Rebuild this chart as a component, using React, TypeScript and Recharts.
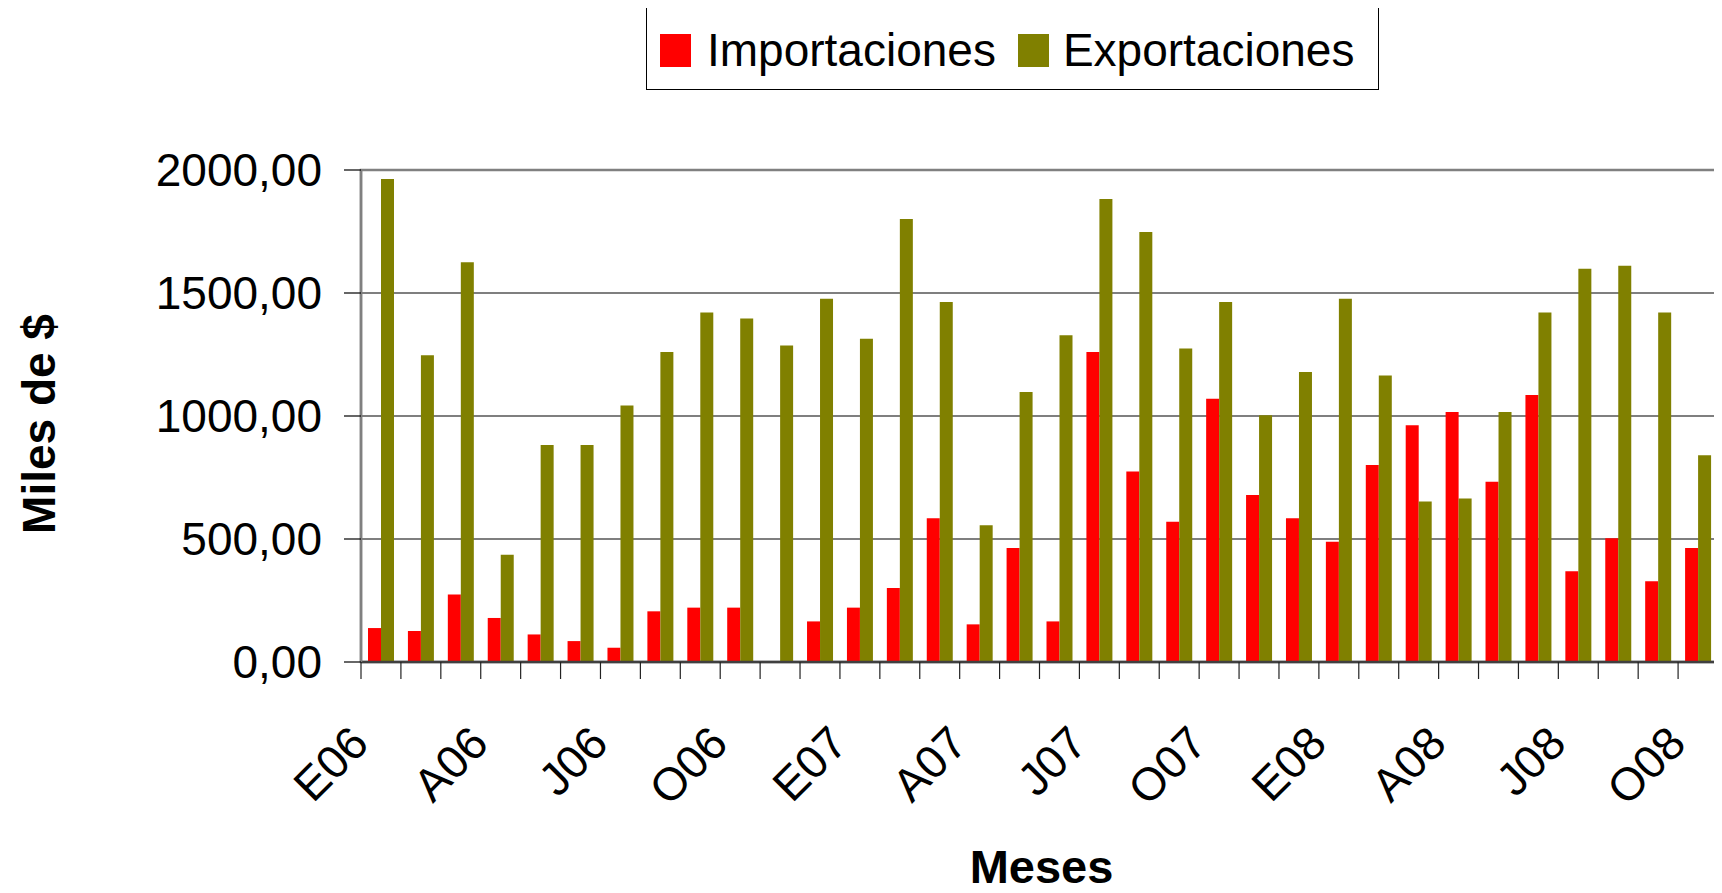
import React from 'react';
import {
	BarChart,
	Bar,
	XAxis,
	YAxis,
	CartesianGrid,
	ReferenceArea,
} from 'recharts';

// months E06 .. O08 (Spanish initials)
const meses = [
	'E06', 'F06', 'M06', 'A06', 'M06', 'J06', 'J06', 'A06', 'S06', 'O06', 'N06', 'D06',
	'E07', 'F07', 'M07', 'A07', 'M07', 'J07', 'J07', 'A07', 'S07', 'O07', 'N07', 'D07',
	'E08', 'F08', 'M08', 'A08', 'M08', 'J08', 'J08', 'A08', 'S08', 'O08',
];

const importaciones = [
	138, 126, 274, 179, 112, 85, 58, 206, 221, 221, 0, 165,
	221, 301, 584, 153, 463, 165, 1260, 774, 570, 1070, 679, 584,
	489, 801, 962, 1016, 733, 1085, 369, 503, 328, 463,
];

const exportaciones = [
	1963, 1247, 1625, 436, 882, 882, 1043, 1260, 1421, 1396, 1287, 1477,
	1314, 1801, 1463, 556, 1098, 1328, 1882, 1748, 1274, 1463, 1003, 1179,
	1477, 1165, 652, 665, 1016, 1421, 1599, 1611, 1421, 840,
];

const yTicks = [0, 500, 1000, 1500, 2000];

const data = meses.map((mes, i) => ({
	mes,
	Importaciones: importaciones[i],
	Exportaciones: exportaciones[i],
}));

const FONT = '"Liberation Sans", Arial, sans-serif';
const PLOT_WIDTH = 1357;
const BAND = PLOT_WIDTH / meses.length;

const formatY = (v: number) => v.toFixed(2).replace('.', ',');

const MonthTick = (props: any) => {
	const { x, y, index, payload } = props;
	const half = BAND / 2;
	const ax = x - 10;
	const ay = y + 84;
	return (
		<g>
			<line x1={x - half} x2={x - half} y1={y} y2={y + 17} stroke="#222" strokeWidth={1.2} />
			{index === meses.length - 1 && (
				<line x1={x + half} x2={x + half} y1={y} y2={y + 17} stroke="#222" strokeWidth={1.2} />
			)}
			{index % 3 === 0 && (
				<text
					x={ax}
					y={ay}
					textAnchor="end"
					transform={`rotate(-45, ${ax}, ${ay})`}
					fontSize={46}
					fontFamily={FONT}
					fill="#000"
				>
					{payload.value}
				</text>
			)}
		</g>
	);
};

const xTitle = (props: any) => {
	const vb = props.viewBox || { x: 353, y: 654, width: 1357 };
	return (
		<text x={vb.x + vb.width / 2 + 2} y={vb.y + 221} textAnchor="middle" fontSize={47} fontWeight="bold" fontFamily={FONT} fill="#000">
			Meses
		</text>
	);
};

const yTitle = (props: any) => {
	const vb = props.viewBox || { x: 0, y: 162, height: 492 };
	const cx = 47;
	const cy = vb.y + vb.height / 2 + 8;
	return (
		<text x={cx} y={cy} textAnchor="middle" transform={`rotate(-90, ${cx}, ${cy})`} fontSize={46} fontWeight="bold" fontFamily={FONT} fill="#000">
			Miles de $
		</text>
	);
};

const Swatch = ({ color }: { color: string }) => (
	<span style={{ display: 'inline-block', width: 31, height: 33, background: color }} />
);

const App: React.FC = () => {
	return (
		<div style={{ position: 'relative', width: 1714, height: 885, fontFamily: FONT }}>
			<div
				style={{
					position: 'absolute',
					left: 638,
					top: -1,
					width: 733,
					height: 83,
					boxSizing: 'border-box',
					border: '1.5px solid #000',
					background: '#fff',
					display: 'flex',
					alignItems: 'center',
					paddingLeft: 13,
					paddingTop: 3,
					fontSize: 46,
					lineHeight: '46px',
					color: '#000',
					zIndex: 2,
				}}
			>
				<Swatch color="#FF0000" />
				<span style={{ marginLeft: 16, marginRight: 22 }}>Importaciones</span>
				<Swatch color="#808000" />
				<span style={{ marginLeft: 14 }}>Exportaciones</span>
			</div>
			<BarChart
				width={1714}
				height={885}
				data={data}
				margin={{ top: 162, right: 4, bottom: 0, left: 0 }}
				barGap={0}
				barSize={13}
			>
				<CartesianGrid vertical={false} stroke="#000" strokeWidth={1.2} />
				<XAxis
					dataKey="mes"
					interval={0}
					height={231}
					tickSize={0}
					tickMargin={0}
					tickLine={false}
					tick={<MonthTick />}
					axisLine={{ stroke: '#404040', strokeWidth: 2.5 }}
					label={xTitle}
				/>
				<YAxis
					width={353}
					domain={[0, 2000]}
					ticks={yTicks}
					tickFormatter={formatY}
					tickSize={17}
					tickMargin={22}
					tick={{ fill: '#000', fontSize: 46, fontFamily: FONT }}
					tickLine={{ stroke: '#000', strokeWidth: 1.2 }}
					axisLine={{ stroke: '#808080', strokeWidth: 2.5 }}
					label={yTitle}
				/>
				<ReferenceArea y1={0} y2={2000} fill="none" stroke="#808080" strokeWidth={2.5} />
				<Bar dataKey="Importaciones" fill="#FF0000" isAnimationActive={false} />
				<Bar dataKey="Exportaciones" fill="#808000" isAnimationActive={false} />
			</BarChart>
		</div>
	);
};

export default App;
